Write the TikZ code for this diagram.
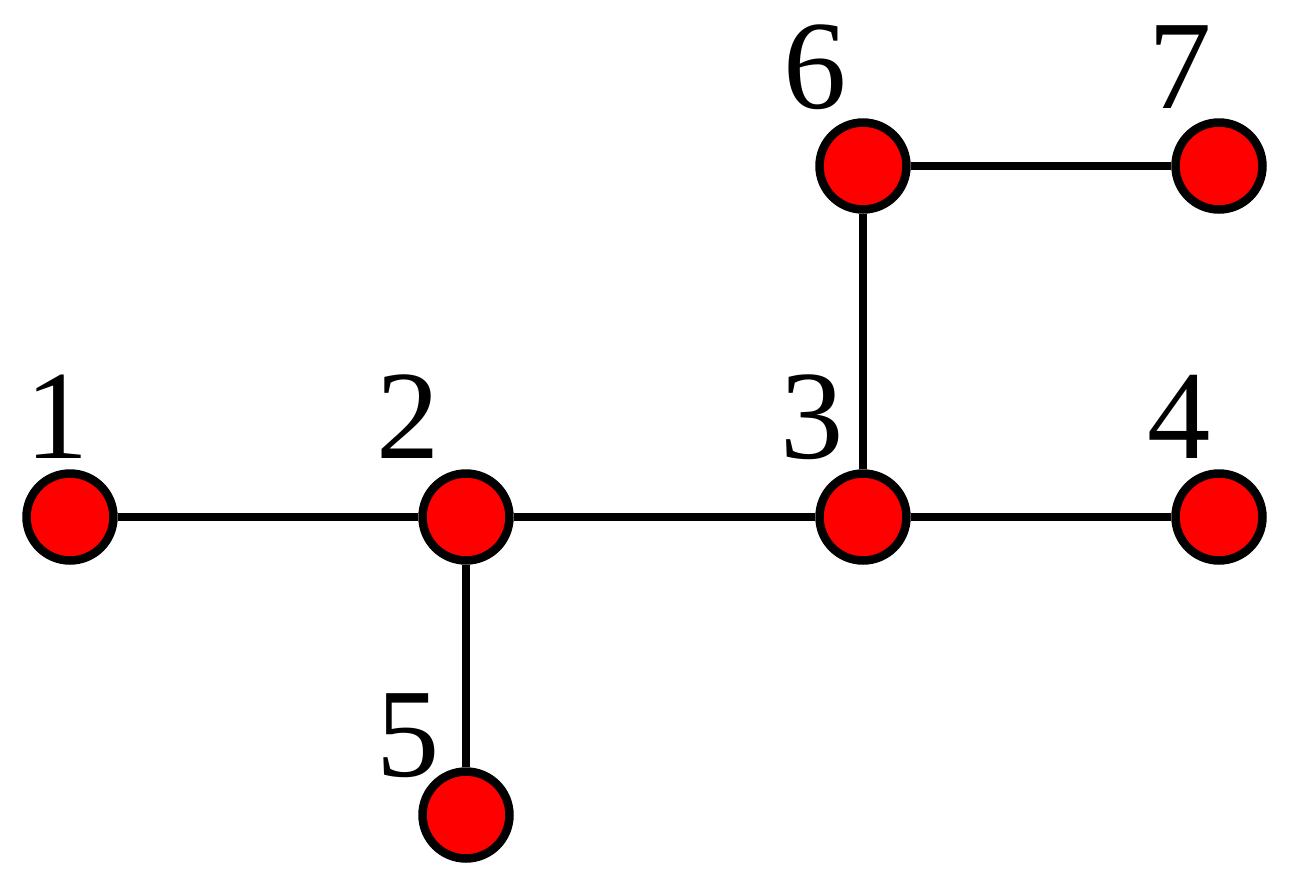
\documentclass[tikz,border=0pt]{standalone}
\usepackage{fontspec}
\setmainfont{Liberation Serif}
\definecolor{vertexred}{RGB}{255,0,0}
\usetikzlibrary{positioning}
\tikzset{
  vertex/.style={circle,draw=black,fill=vertexred,line width=0.17cm,
                 minimum size=1.74cm,inner sep=0pt},
  edge/.style={line width=0.16cm,black},
  tag/.style={anchor=base,inner sep=0pt,font=\fontsize{72}{80}\selectfont},
}
\begin{document}
\begin{tikzpicture}[x=0.02cm,y=-0.02cm]
    \useasboundingbox (0,0) rectangle (1289,883);

    \node[vertex] (v1) at (70,517)   {};
    \node[vertex] (v2) at (466,517)  {};
    \node[vertex] (v3) at (863,517)  {};
    \node[vertex] (v4) at (1219,517) {};
    \node[vertex] (v5) at (466,815)  {};
    \node[vertex] (v6) at (863,166)  {};
    \node[vertex] (v7) at (1219,166) {};

    \foreach \a/\b in {v1/v2,v2/v3,v3/v4,v2/v5,v3/v6,v6/v7}{
      \draw[edge] (\a) -- (\b);
    }

    \node[tag] (t1) at (57,458)   {1};
    \node[tag] (t2) at (408,458)  {2};
    \node[tag] (t3) at (812,458)  {3};
    \node[tag] (t4) at (1179,458) {4};
    \node[tag] (t5) at (408,776)  {5};
    \node[tag] (t6) at (815,108)  {6};
    \node[tag] (t7) at (1180,108) {7};
  \end{tikzpicture}
\end{document}
